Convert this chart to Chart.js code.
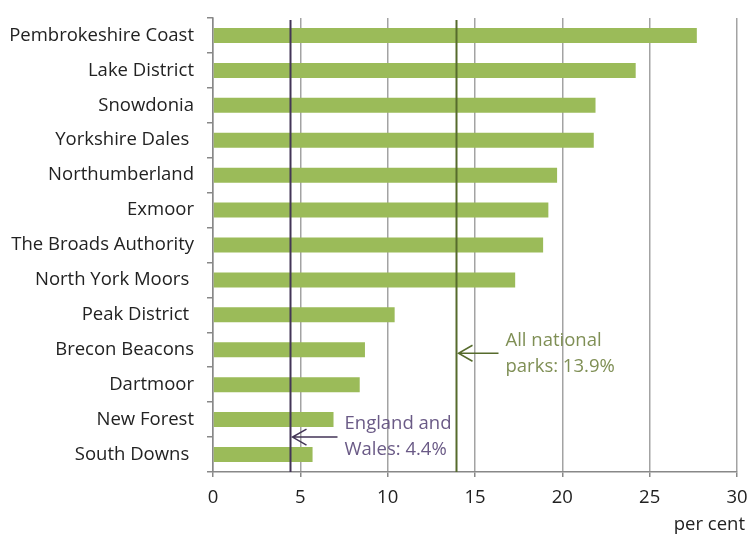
<!DOCTYPE html>
<html>
<head>
<meta charset="utf-8">
<script src="https://cdn.jsdelivr.net/npm/chart.js@4/dist/chart.umd.min.js"></script>
<style>
  html, body { margin: 0; padding: 0; background: #fff; }
  #c { display: block; }
</style>
</head>
<body>
<canvas id="c" width="749" height="538"></canvas>
<script>
// National parks and their share (per cent)
const parks = [
  'Pembrokeshire Coast', 'Lake District', 'Snowdonia', 'Yorkshire Dales ',
  'Northumberland', 'Exmoor', 'The Broads Authority', 'North York Moors ',
  'Peak District ', 'Brecon Beacons', 'Dartmoor', 'New Forest', 'South Downs '
];
const shares = [27.7, 24.2, 21.9, 21.8, 19.7, 19.2, 18.9, 17.3, 10.4, 8.7, 8.4, 6.9, 5.7];

// Axis range and tick step
const xMin = 0;
const xMax = 30;
const xStep = 5;
const xTitle = 'per cent';

// Reference levels
const englandWales = 4.4;
const allParks = 13.9;
const englandWalesLabel = ['England and', 'Wales: 4.4%'];
const allParksLabel = ['All national', 'parks: 13.9%'];

const FONT = '"Open Sans", "Noto Sans", sans-serif';
const FONT_SIZE = 18.5;

function arrowLeft(ctx, tipX, y, tailX, color) {
  ctx.save();
  ctx.strokeStyle = color;
  ctx.lineWidth = 1.5;
  ctx.beginPath();
  ctx.moveTo(tailX, y);
  ctx.lineTo(tipX, y);
  ctx.moveTo(tipX + 14, y - 8);
  ctx.lineTo(tipX, y);
  ctx.lineTo(tipX + 14, y + 8);
  ctx.stroke();
  ctx.restore();
}

const referenceLines = {
  id: 'referenceLines',
  afterDatasetsDraw(chart) {
    const { ctx, chartArea } = chart;
    const x = chart.scales.x;
    const y = chart.scales.y;
    const refs = [
      { v: englandWales, line: '#433557', text: '#6a5a86', label: englandWalesLabel, at: 11.5, len: 47 },
      { v: allParks, line: '#566b2c', text: '#7f8f55', label: allParksLabel, at: 9.1, len: 42 }
    ];
    refs.forEach(r => {
      const px = Math.round(x.getPixelForValue(r.v)) + 0.5;
      ctx.save();
      ctx.strokeStyle = r.line;
      ctx.lineWidth = 2;
      ctx.beginPath();
      ctx.moveTo(px, chartArea.top + 2);
      ctx.lineTo(px, chartArea.bottom);
      ctx.stroke();
      ctx.restore();

      const yA = y.getPixelForValue(r.at);
      arrowLeft(ctx, px + 2, yA, px + r.len, r.line);

      ctx.save();
      ctx.fillStyle = r.text;
      ctx.font = FONT_SIZE + 'px ' + FONT;
      ctx.textAlign = 'left';
      ctx.textBaseline = 'middle';
      ctx.fillText(r.label[0], px + r.len + 7, yA - 13);
      ctx.fillText(r.label[1], px + r.len + 7, yA + 13);
      ctx.restore();
    });

    // Axis unit, right-aligned under the last tick
    ctx.save();
    ctx.fillStyle = '#222';
    ctx.font = FONT_SIZE + 'px ' + FONT;
    ctx.textAlign = 'right';
    ctx.textBaseline = 'middle';
    ctx.fillText(xTitle, chartArea.right + 8, 525);
    ctx.restore();
  }
};

new Chart(document.getElementById('c'), {
  type: 'bar',
  data: {
    labels: parks,
    datasets: [{
      data: shares,
      backgroundColor: '#9bbb59',
      borderWidth: 0,
      categoryPercentage: 1,
      barPercentage: 0.43
    }]
  },
  options: {
    indexAxis: 'y',
    responsive: false,
    animation: false,
    devicePixelRatio: 1,
    layout: { padding: { top: 18, right: 12, left: 0, bottom: 0 } },
    plugins: {
      legend: { display: false },
      tooltip: { enabled: false }
    },
    scales: {
      x: {
        min: xMin,
        max: xMax,
        ticks: {
          stepSize: xStep,
          color: '#222',
          font: { family: FONT, size: FONT_SIZE },
          padding: 10
        },
        grid: {
          color: '#a3a3a3',
          lineWidth: 1.5,
          tickLength: 5,
          tickColor: '#888'
        },
        border: { color: '#888', width: 1.5 },
        afterFit(scale) {
          scale.height = 66;
          scale.paddingLeft = 0;
          scale.paddingRight = 0;
        }
      },
      y: {
        ticks: {
          color: '#222',
          font: { family: FONT, size: FONT_SIZE },
          padding: 13,
          autoSkip: false
        },
        grid: {
          drawOnChartArea: false,
          tickLength: 6,
          color: '#888',
          lineWidth: 1.5
        },
        border: { color: '#888', width: 1.5 },
        afterFit(scale) {
          scale.width = 213;
          scale.paddingTop = 0;
          scale.paddingBottom = 0;
        }
      }
    }
  },
  plugins: [referenceLines]
});
</script>
</body>
</html>
